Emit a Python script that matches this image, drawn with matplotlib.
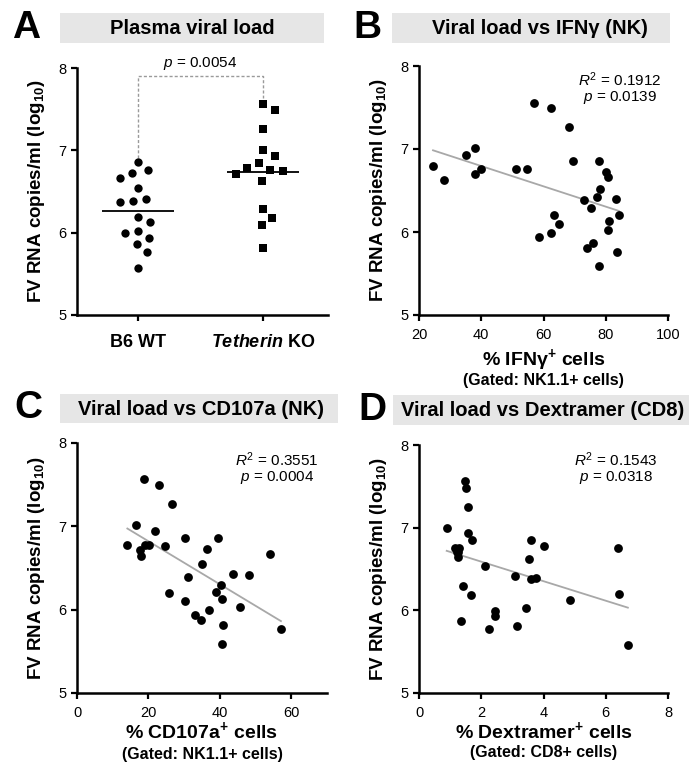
import numpy as np
import matplotlib
matplotlib.use('Agg')
import matplotlib.pyplot as plt
from matplotlib.patches import Rectangle

plt.rcParams['font.family'] = ['Liberation Sans', 'DejaVu Sans']
plt.rcParams['mathtext.fontset'] = 'custom'
plt.rcParams['mathtext.rm'] = 'Liberation Sans'
plt.rcParams['mathtext.it'] = 'Liberation Sans:italic'
plt.rcParams['mathtext.bf'] = 'Liberation Sans:bold'
plt.rcParams['mathtext.bfit'] = 'Liberation Sans:italic:bold'

# ---------------- data ----------------
groups = ['B6 WT', r'$\mathbfit{Tetherin}$ KO']
b6_wt = [6.86, 6.76, 6.72, 6.66, 6.54, 6.41, 6.39, 6.37, 6.19, 6.13,
         6.02, 5.99, 5.93, 5.86, 5.76, 5.57]
tetherin_ko = [7.56, 7.49, 7.26, 7.00, 6.93, 6.85, 6.79, 6.76, 6.75, 6.71,
               6.63, 6.29, 6.18, 6.09, 5.81]
p_a = '0.0054'

ifng_x = [24.5, 27.9, 35.1, 38.1, 38.1, 40.0, 51.2, 54.7, 56.8, 62.3, 68.2,
          69.5, 58.4, 62.3, 63.5, 64.9, 73.0, 73.9, 76.0, 75.4, 77.1, 77.7,
          78.0, 77.7, 80.1, 80.8, 80.7, 81.0, 83.2, 83.5, 84.2]
ifng_y = [6.79, 6.63, 6.93, 7.01, 6.70, 6.76, 6.76, 6.76, 7.56, 7.49, 7.26,
          6.85, 5.94, 5.99, 6.20, 6.10, 6.38, 5.81, 5.87, 6.29, 6.42, 6.85,
          6.52, 5.59, 6.72, 6.66, 6.03, 6.13, 6.40, 5.76, 6.21]
stats_b = ('0.1912', '0.0139')

cd107_x = [14.1, 16.4, 17.5, 17.9, 18.7, 18.9, 20.1, 21.8, 22.9, 24.6, 26.7,
           25.7, 30.2, 30.2, 31.1, 33.0, 34.7, 35.0, 36.5, 37.0, 39.6, 38.8,
           40.3, 40.5, 41.0, 40.7, 43.8, 45.6, 48.1, 53.9, 57.1]
cd107_y = [6.77, 7.01, 6.72, 6.64, 7.57, 6.78, 6.78, 6.94, 7.49, 6.76, 7.27,
           6.20, 6.86, 6.10, 6.39, 5.94, 5.87, 6.55, 6.73, 5.99, 6.86, 6.21,
           6.30, 6.13, 5.82, 5.59, 6.43, 6.03, 6.41, 6.67, 5.77]
stats_c = ('0.3551', '0.0004')

dex_x = [0.89, 1.49, 1.51, 1.59, 1.59, 1.70, 1.16, 1.30, 1.25, 1.25, 1.22,
         1.40, 1.68, 1.36, 2.12, 2.45, 2.44, 2.26, 3.09, 3.45, 3.16, 3.53,
         3.60, 3.59, 3.75, 4.00, 4.85, 6.38, 6.42, 6.71]
dex_y = [7.00, 7.56, 7.48, 7.25, 6.93, 6.85, 6.76, 6.76, 6.71, 6.65, 6.70,
         6.29, 6.19, 5.87, 6.54, 5.99, 5.93, 5.77, 6.41, 6.03, 5.81, 6.62,
         6.85, 6.38, 6.39, 6.78, 6.12, 6.76, 6.20, 5.58]
stats_d = ('0.1543', '0.0318')

ylabel = r'FV RNA copies/ml (log$_{\mathbf{10}}$)'

# ---------------- layout helpers ----------------
W, H = 692, 766
fig = plt.figure(figsize=(W / 100, H / 100), dpi=100)


def px_axes(l, t, r, b):
    ax = fig.add_axes([l / W, 1 - b / H, (r - l) / W, (b - t) / H])
    ax.spines[['top', 'right']].set_visible(False)
    for s in ('left', 'bottom'):
        ax.spines[s].set_linewidth(1.8)
    ax.tick_params(width=1.6, length=4.5, labelsize=10.5, pad=3)
    ax.set_ylim(5, 8)
    ax.set_yticks([5, 6, 7, 8])
    w = r - l
    ax.set_ylabel(ylabel, fontsize=13.5, fontweight='bold')
    ax.yaxis.set_label_coords(-30 / w, 0.5)
    return ax


def ftext(x, y, s, **kw):
    fig.text(x / W, 1 - y / H, s, **kw)


def title_box(l, t, r, b, text, tx, letter, lx):
    fig.patches.append(Rectangle((l / W, 1 - b / H), (r - l) / W, (b - t) / H,
                                 transform=fig.transFigure, facecolor='#e6e6e6',
                                 edgecolor='none', zorder=0))
    ftext(tx, (t + b) / 2 + 1, text, ha='center', va='center',
          fontsize=14.5, fontweight='bold')
    ftext(lx, (t + b) / 2, letter, ha='center', va='center',
          fontsize=28, fontweight='bold')


def xlabels(l, r, main, sub, y1, y2):
    ftext((l + r) / 2, y1, main, ha='center', va='center', fontsize=14,
          fontweight='bold')
    ftext((l + r) / 2, y2, sub, ha='center', va='center', fontsize=11.5,
          fontweight='bold')


def swarm(values, d_px, px_per_unit):
    ys = np.asarray(values) * px_per_unit
    order = np.argsort(-ys)
    xs = np.zeros(len(ys))
    placed = []
    for i in order:
        cands = [0.0]
        for j in placed:
            dy = ys[i] - ys[j]
            if abs(dy) < d_px:
                dx = np.sqrt(d_px ** 2 - dy ** 2)
                cands += [xs[j] + dx, xs[j] - dx]
        cands.sort(key=abs)
        for c in cands:
            if all((c - xs[j]) ** 2 + (ys[i] - ys[j]) ** 2 >= d_px ** 2 - 1e-6
                   for j in placed):
                xs[i] = c
                break
        placed.append(i)
    return xs


def scatter_panel(ax, x, y, stats, sx, sy):
    ax.scatter(x, y, s=40, color='black', zorder=3, linewidths=0)
    k, c = np.polyfit(x, y, 1)
    xx = np.array([min(x), max(x)])
    ax.plot(xx, k * xx + c, color='#a8a8a8', lw=1.3, zorder=2)
    ftext(sx, sy, r'$R^2$ = ' + stats[0], ha='center', va='center', fontsize=11)
    ftext(sx, sy + 18, r'$p$ = ' + stats[1], ha='center', va='center', fontsize=11)


# ---------------- Panel A ----------------
L, T, R, B = 77, 68, 328, 315
axA = px_axes(L, T, R, B)
xlim = (-0.49, 1.52)
axA.set_xlim(*xlim)
unit_px = (B - T) / 3.0
x_per_px = (xlim[1] - xlim[0]) / (R - L)
for i, (vals, mk, sz) in enumerate([(b6_wt, 'o', 36), (tetherin_ko, 's', 30)]):
    off = swarm(vals, 13.0, unit_px) * x_per_px
    axA.scatter(i + off, vals, marker=mk, s=sz, color='black', linewidths=0,
                zorder=3, clip_on=False)
    axA.hlines(np.mean(vals), i - 0.29, i + 0.29, color='black', lw=1.3, zorder=2)
axA.set_xticks([0, 1])
axA.set_xticklabels(groups, fontsize=13, fontweight='bold')
axA.tick_params(axis='x', pad=9)
top = 7.9
axA.plot([0, 0, 1, 1], [max(b6_wt) + 0.05, top, top, max(tetherin_ko) + 0.08],
         ls=(0, (2.2, 1.5)), color='#9a9a9a', lw=1.0, clip_on=False)
ftext(200, 64, r'$p$ = ' + p_a, ha='center', va='center', fontsize=11)
title_box(60, 13, 324, 43, 'Plasma viral load', 192, 'A', 26)

# ---------------- Panel B ----------------
L, T, R, B = 419, 66, 668, 315
axB = px_axes(L, T, R, B)
axB.set_xlim(20, 100)
axB.set_xticks([20, 40, 60, 80, 100])
axB.tick_params(axis='x', pad=5)
scatter_panel(axB, ifng_x, ifng_y, stats_b, 620, 80)
xlabels(L, R, r'% IFNγ$^{\mathbf{+}}$ cells', '(Gated: NK1.1+ cells)', 360, 381)
title_box(392, 13, 670, 43, 'Viral load vs IFNγ (NK)', 540, 'B', 367)

# ---------------- Panel C ----------------
L, T, R, B = 77, 443, 327, 693
axC = px_axes(L, T, R, B)
axC.set_xlim(0, 70)
axC.set_xticks([0, 20, 40, 60])
axC.tick_params(axis='x', pad=5)
scatter_panel(axC, cd107_x, cd107_y, stats_c, 277, 460)
xlabels(L, R, r'% CD107a$^{\mathbf{+}}$ cells', '(Gated: NK1.1+ cells)', 731, 755)
title_box(60, 394, 338, 423, 'Viral load vs CD107a (NK)', 201, 'C', 28)

# ---------------- Panel D ----------------
L, T, R, B = 419, 445, 668, 693
axD = px_axes(L, T, R, B)
axD.set_xlim(0, 8)
axD.set_xticks([0, 2, 4, 6, 8])
axD.tick_params(axis='x', pad=5)
scatter_panel(axD, dex_x, dex_y, stats_d, 616, 460)
xlabels(L, R, r'% Dextramer$^{\mathbf{+}}$ cells', '(Gated: CD8+ cells)', 731, 753)
title_box(393, 395, 689, 425, 'Viral load vs Dextramer (CD8)', 543, 'D', 372)

fig.savefig('out.png', dpi=100)
